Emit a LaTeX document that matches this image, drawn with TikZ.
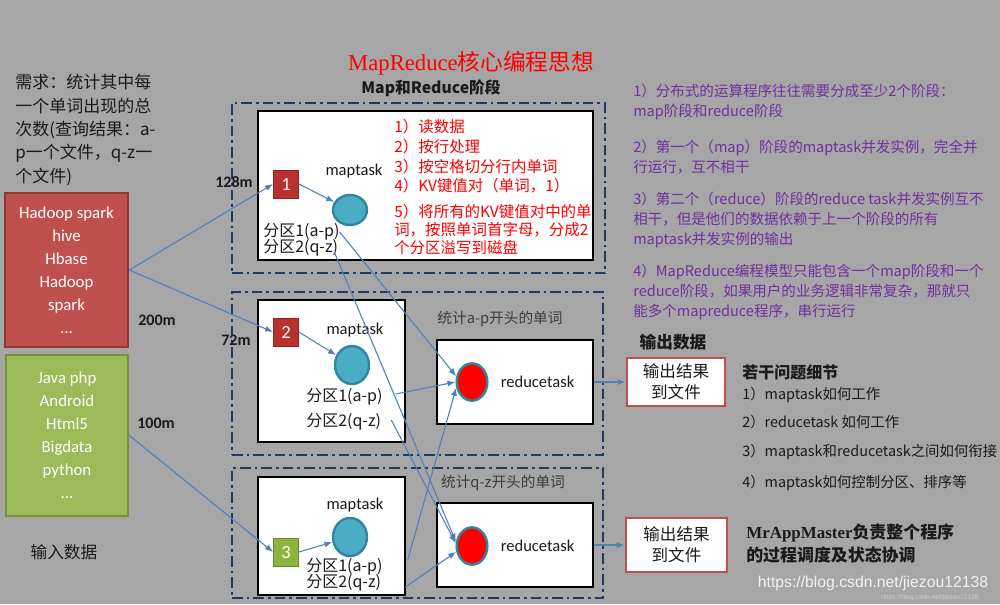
\documentclass[tikz,border=0pt]{standalone}
\usepackage{fontspec}
\setmainfont{Noto Sans CJK SC}
\newfontfamily\latf{Carlito}
\newfontfamily\serf{Liberation Serif}
\newfontfamily\arif{Liberation Sans}
\usepackage{tikz}
\usetikzlibrary{arrows.meta, positioning, shapes.geometric, calc}
\definecolor{mrBg}{HTML}{A6A6A6}
\definecolor{mrRed}{HTML}{C0504D}
\definecolor{mrRedLine}{HTML}{8C3836}
\definecolor{mrGreen}{HTML}{9BBB59}
\definecolor{mrGreenLine}{HTML}{76923C}
\definecolor{mrSplitR}{HTML}{B8312E}
\definecolor{mrSplitG}{HTML}{8CB43E}
\definecolor{mrTeal}{HTML}{4BACC6}
\definecolor{mrTealLine}{HTML}{31859C}
\definecolor{mrFrame}{HTML}{1F3864}
\definecolor{mrArrow}{HTML}{4F81BD}
\definecolor{mrPurple}{HTML}{7030A0}
\definecolor{mrText}{HTML}{1A1A1A}

\begin{document}
\begin{tikzpicture}[x=0.75pt, y=-0.75pt,
  inbox/.style={draw=#1Line, fill=#1, line width=2pt, text=white, align=center,
                font=\latf\fontsize{12.6}{17.25}\selectfont, inner sep=0pt},
  phase/.style={draw=mrFrame, line width=1.1pt, inner sep=0pt,
                dash pattern=on 8pt off 3pt on 2pt off 3pt},
  taskbox/.style={draw=black, fill=white, line width=2pt, inner sep=0pt},
  split/.style={fill=#1, draw=#1!75!black, text=white, minimum width=19pt,
                minimum height=21pt, inner sep=0pt, font=\latf\fontsize{14}{14}\selectfont},
  maptask/.style={ellipse, draw=mrTealLine, fill=mrTeal, line width=1.8pt,
                  minimum width=25.5pt, minimum height=28.5pt, inner sep=0pt},
  reducer/.style={ellipse, draw=mrTealLine, fill=red, line width=1.8pt,
                  minimum width=23pt, minimum height=28pt, inner sep=0pt},
  lbl/.style={font=\latf\fontsize{12.4}{14}\selectfont, text=mrText, inner sep=0pt},
  size/.style={font=\latf\bfseries\fontsize{12}{14}\selectfont, text=mrText, inner sep=0pt},
  part/.style={anchor=west, font=\fontsize{12}{14}\selectfont, text=mrText, inner sep=0pt},
  steps/.style={anchor=west, align=left, text=red, inner sep=0pt},
  outbox/.style={draw=mrRed, fill=white, line width=2pt, align=center, text=mrText,
                 font=\fontsize{12.4}{15.75}\selectfont, inner sep=0pt},
  note/.style={anchor=west, align=left, text=mrPurple, inner sep=0pt,
               font=\fontsize{10.9}{15}\selectfont},
  ask/.style={anchor=west, text=mrText, inner sep=0pt, font=\fontsize{10.8}{13}\selectfont},
  arr/.style={-{Latex[length=6pt,width=4.5pt]}, draw=mrArrow, line width=0.8pt}
]
  \path[fill=mrBg] (0,0) rectangle (1000,604);

  % headings
  \node[text=red, font=\fontsize{17}{20}\selectfont] (title) at (471,63) {{\serf MapReduce}核心编程思想};
  \node[text=mrText, font=\bfseries\fontsize{11.8}{15}\selectfont] (stage) at (431,88) {Map和Reduce阶段};

  % input side
  \node[anchor=west, align=left, text=mrText, inner sep=0pt,
        font=\fontsize{12.75}{17.6}\selectfont] (need) at (15,130)
        {需求：统计其中每\\一个单词出现的总\\次数(查询结果：a-\\p一个文件，q-z一\\个文件)};
  \node[inbox=mrRed, minimum width=92.25pt, minimum height=115.5pt] (inred) at (66.5,270)
        {Hadoop spark\\hive\\Hbase\\Hadoop\\spark\\...};
  \node[inbox=mrGreen, minimum width=91.5pt, minimum height=120.75pt] (ingreen) at (67,435.5)
        {Java php\\Android\\Html5\\Bigdata\\python\\...};
  \node[text=mrText, font=\fontsize{12.5}{15}\selectfont, inner sep=0pt] (input) at (64,552) {输入数据};

  % phase frames
  \node[phase, minimum width=279.75pt, minimum height=127.5pt] (phase1) at (418.5,188) {};
  \node[phase, minimum width=278.25pt, minimum height=122.25pt] (phase2) at (417.5,373.5) {};
  \node[phase, minimum width=278.25pt, minimum height=97.5pt] (phase3) at (417.5,533) {};

  % task boxes
  \node[taskbox, minimum width=251.25pt, minimum height=111.75pt] (mbox1) at (425.5,185.5) {};
  \node[taskbox, minimum width=110.25pt, minimum height=106.5pt] (mbox2) at (331.5,371) {};
  \node[taskbox, minimum width=110.25pt, minimum height=88.5pt] (mbox3) at (331.5,536) {};
  \node[taskbox, minimum width=117pt, minimum height=63pt] (rbox2) at (515,382) {};
  \node[taskbox, minimum width=117pt, minimum height=63pt] (rbox3) at (515,545) {};

  % split sizes
  \node[size] (s128) at (234,182) {128m};
  \node[size] (s200) at (157,320) {200m};
  \node[size] (s72) at (236,340) {72m};
  \node[size] (s100) at (156,423) {100m};

  % splits and map tasks
  \node[split=mrSplitR] (sp1) at (286,184) {1};
  \node[split=mrSplitR] (sp2) at (286,332) {2};
  \node[split=mrSplitG] (sp3) at (286,552) {3};
  \node[maptask, minimum height=22.5pt] (mt1) at (350,210) {};
  \node[maptask] (mt2) at (352,365) {};
  \node[maptask] (mt3) at (350,537) {};
  \node[lbl] (ml1) at (354,171) {maptask};
  \node[lbl] (ml2) at (355,330) {maptask};
  \node[lbl] (ml3) at (355,505) {maptask};

  \node[part] (pa1) at (263,232) {分区1(a-p)};
  \node[part] (pb1) at (263,248) {分区2(q-z)};
  \node[part] (pa2) at (306,397) {分区1(a-p)};
  \node[part] (pb2) at (306,422) {分区2(q-z)};
  \node[part] (pa3) at (306,567) {分区1(a-p)};
  \node[part] (pb3) at (306,583) {分区2(q-z)};

  \node[steps, font=\fontsize{11.6}{14.8}\selectfont] (stepsA) at (394,156.5)
        {1）读数据\\2）按行处理\\3）按空格切分行内单词\\4）KV键值对（单词，1）};
  \node[steps, font=\fontsize{11.6}{13.5}\selectfont] (stepsB) at (394,230)
        {5）将所有的KV键值对中的单\\词，按照单词首字母，分成2\\个分区溢写到磁盘};

  % reduce tasks
  \node[reducer] (rt2) at (472,382) {};
  \node[reducer] (rt3) at (472,546) {};
  \node[lbl, right=9pt of rt2] (rl2) {reducetask};
  \node[lbl, right=9pt of rt3] (rl3) {reducetask};
  \node[text=mrText!85, font=\fontsize{11}{13}\selectfont, inner sep=0pt] (ap) at (500,319) {统计a-p开头的单词};
  \node[text=mrText!85, font=\fontsize{11}{13}\selectfont, inner sep=0pt] (qz) at (503,483) {统计q-z开头的单词};

  % output side
  \node[text=mrText, font=\bfseries\fontsize{12.5}{15}\selectfont, inner sep=0pt] (output) at (673,342) {输出数据};
  \node[outbox, minimum width=73.5pt, minimum height=36pt] (out2) at (676,382) {输出结果\\到文件};
  \node[outbox, minimum width=75.75pt, minimum height=40.5pt] (out3) at (676.5,545) {输出结果\\到文件};

  \node[note] (n1) at (633,102) {1）分布式的运算程序往往需要分成至少2个阶段：\\map阶段和reduce阶段};
  \node[note] (n2) at (633,157) {2）第一个（map）阶段的maptask并发实例，完全并\\行运行，互不相干};
  \node[note] (n3) at (633,220) {3）第二个（reduce）阶段的reduce task并发实例互不\\相干，但是他们的数据依赖于上一个阶段的所有\\maptask并发实例的输出};
  \node[note] (n4) at (633,292) {4）MapReduce编程模型只能包含一个map阶段和一个\\reduce阶段，如果用户的业务逻辑非常复杂，那就只\\能多个mapreduce程序，串行运行};

  \node[ask, font=\bfseries\fontsize{12}{14}\selectfont] (q0) at (742,372) {若干问题细节};
  \node[ask] (q1) at (742,395) {1）maptask如何工作};
  \node[ask] (q2) at (742,422) {2）reducetask 如何工作};
  \node[ask] (q3) at (742,452) {3）maptask和reducetask之间如何衔接};
  \node[ask] (q4) at (742,483) {4）maptask如何控制分区、排序等};

  \node[anchor=west, align=left, text=mrText, inner sep=0pt,
        font=\bfseries\fontsize{12.7}{17.25}\selectfont] (master) at (746,543.5)
        {{\serf\bfseries MrAppMaster}负责整个程序\\的过程调度及状态协调};

  \node[text=white, opacity=0.85, font=\arif\fontsize{11.8}{14}\selectfont, inner sep=0pt] (wm) at (873,583) {https://blog.csdn.net/jiezou12138};
  \node[text=white!80!black, font=\arif\fontsize{5}{6}\selectfont, inner sep=0pt] (wms) at (930,598) {https://blog.csdn.net/jiezou12138};

  % connectors
  \draw[arr] (inred.east) -- (sp1.west);
  \draw[arr] (inred.east) -- (sp2.west);
  \draw[arr] (ingreen.east) -- (sp3.west);
  \draw[arr] (sp1.east) -- (mt1);
  \draw[arr] (sp2.east) -- (mt2);
  \draw[arr] (sp3.east) -- (mt3);
  \draw[arr] (pa1.east) -- (rt2.160);
  \draw[arr] ($(pb1.east)+(-4,4)$) -- (rt3.165);
  \draw[arr] ($(pa2.east)+(13,-3)$) -- (rt2.west);
  \draw[arr] ($(pb2.east)+(10,-2)$) -- (rt3.170);
  \draw[arr] ($(pa3.east)+(25,-7)$) -- (rt2.200);
  \draw[arr] ($(pb3.east)+(24,4)$) -- (rt3.200);
  \draw[arr] (rbox2.east) -- (out2.west);
  \draw[arr] (rbox3.east) -- (out3.west);
\end{tikzpicture}
\end{document}
